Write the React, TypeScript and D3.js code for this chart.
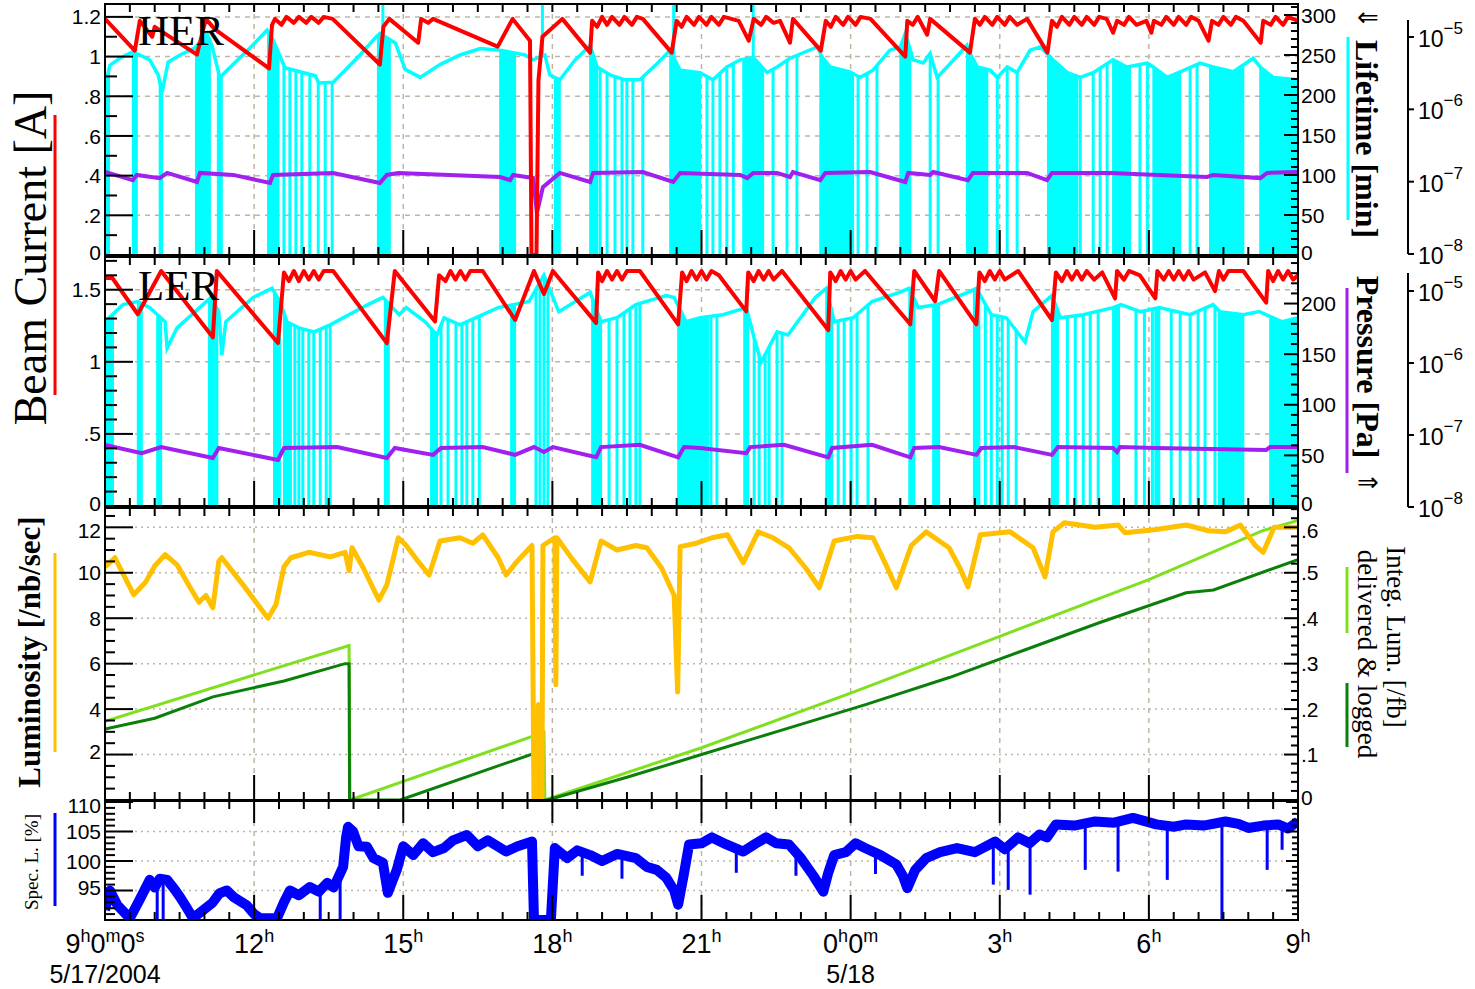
import React from "react";
import * as d3 from "d3";

type P = [number, number];

// ---------- axis / tick data ----------
const TIME_MAJOR = [0, 3, 6, 9, 12, 15, 18, 21, 24];
const TIME_LABELS: string[][] = [
  ["9", "h", "0", "m", "0", "s"], ["12", "h"], ["15", "h"], ["18", "h"], ["21", "h"],
  ["0", "h", "0", "m"], ["3", "h"], ["6", "h"], ["9", "h"],
];
const DATE_LABELS: [number, string][] = [[0, "5/17/2004"], [15, "5/18"]];

const HER_I_TICKS = [0, 0.2, 0.4, 0.6, 0.8, 1, 1.2];
const HER_LT_TICKS = [0, 50, 100, 150, 200, 250, 300];
const LER_I_TICKS = [0, 0.5, 1, 1.5];
const LER_LT_TICKS = [0, 50, 100, 150, 200];
const P_DECADES = [-8, -7, -6, -5];
const LUM_TICKS = [2, 4, 6, 8, 10, 12];
const INT_TICKS = [0, 0.1, 0.2, 0.3, 0.4, 0.5, 0.6];
const SPEC_TICKS = [95, 100, 105, 110];

// ---------- HER ----------
const HER_CURRENT: P[] = [
  [0, 1.19], [0.6, 1.03], [0.7, 1.18], [0.95, 1.1], [1.0, 1.15], [1.85, 1.01], [2.03, 1.19], [2.2, 1.14],
  [3.3, 0.94], [3.36, 1.16], [3.42, 1.19], [3.55, 1.16], [3.65, 1.2], [3.8, 1.17], [3.9, 1.2], [4.05, 1.17],
  [4.15, 1.2], [4.3, 1.17], [4.4, 1.2], [4.58, 1.19], [5.53, 0.96], [5.6, 1.15], [5.72, 1.19], [6.3, 1.07],
  [6.36, 1.19], [6.5, 1.17], [6.6, 1.19], [7.9, 1.05], [8.2, 1.19], [8.55, 1.08], [8.58, 0], [8.68, 0],
  [8.72, 0.88], [8.8, 1.1], [9.2, 1.19], [9.76, 1.02], [9.8, 1.18], [9.9, 1.15], [10.0, 1.2], [10.1, 1.16],
  [10.2, 1.2], [10.35, 1.16], [10.45, 1.2], [10.6, 1.16], [10.7, 1.2], [10.82, 1.19], [11.4, 1.02], [11.5, 1.18],
  [11.6, 1.15], [11.7, 1.2], [11.85, 1.16], [11.95, 1.2], [12.1, 1.16], [12.2, 1.2], [12.35, 1.16], [12.45, 1.2],
  [12.75, 1.18], [12.95, 1.08], [13.05, 1.19], [13.2, 1.16], [13.3, 1.2], [13.45, 1.17], [13.58, 1.18], [13.78, 1.07],
  [13.84, 1.19], [14.4, 1.03], [14.5, 1.18], [14.6, 1.15], [14.7, 1.2], [14.85, 1.16], [14.95, 1.2], [15.1, 1.16],
  [15.2, 1.2], [15.4, 1.19], [16.1, 1.0], [16.14, 1.18], [16.25, 1.16], [16.35, 1.2], [16.54, 1.11], [16.6, 1.19],
  [17.4, 1.02], [17.5, 1.19], [17.6, 1.16], [17.7, 1.2], [17.85, 1.16], [17.95, 1.2], [18.1, 1.16], [18.2, 1.2],
  [18.35, 1.16], [18.55, 1.19], [18.96, 1.02], [19.05, 1.18], [19.15, 1.15], [19.25, 1.2], [19.4, 1.16], [19.5, 1.2],
  [19.65, 1.16], [19.75, 1.2], [19.9, 1.16], [20.0, 1.2], [20.15, 1.19], [20.28, 1.12], [20.36, 1.18], [20.5, 1.16],
  [20.6, 1.2], [20.75, 1.16], [20.95, 1.18], [21.05, 1.12], [21.1, 1.18], [21.25, 1.16], [21.35, 1.2], [21.5, 1.16],
  [21.6, 1.2], [21.75, 1.16], [21.85, 1.2], [22.0, 1.18], [22.2, 1.08], [22.27, 1.18], [22.4, 1.16], [22.5, 1.2],
  [22.65, 1.16], [22.75, 1.2], [22.9, 1.18], [23.25, 1.07], [23.3, 1.18], [23.45, 1.16], [23.55, 1.2], [23.7, 1.16],
  [23.8, 1.2], [24, 1.18],
];
const HER_LIFETIME: P[] = [
  [0, 212], [0.1, 237], [0.3, 246], [0.56, 254], [0.7, 250], [0.9, 244], [1.07, 225], [1.15, 204], [1.27, 241],
  [1.51, 250], [1.81, 259], [2.05, 277], [2.15, 262], [2.31, 222], [2.62, 241], [2.92, 259], [3.26, 281],
  [3.38, 269], [3.62, 234], [3.92, 229], [4.23, 224], [4.3, 215], [4.59, 216], [4.83, 231], [5.13, 250],
  [5.43, 271], [5.53, 277], [5.84, 265], [6.04, 232], [6.34, 222], [6.74, 238], [7.14, 250], [7.55, 258],
  [7.95, 256], [8.45, 250], [8.61, 244], [8.85, 250], [8.95, 225], [9.15, 219], [9.46, 244], [9.76, 262],
  [9.9, 235], [10.16, 225], [10.46, 219], [10.76, 219], [11.07, 237], [11.37, 256], [11.57, 231], [11.97, 228],
  [12.23, 219], [12.51, 235], [12.78, 244], [13.04, 247], [13.32, 228], [13.52, 235], [13.78, 246], [14.33, 260],
  [14.43, 247], [14.59, 235], [14.99, 229], [15.19, 222], [15.45, 231], [15.79, 256], [16.0, 260], [16.1, 277],
  [16.26, 244], [16.46, 240], [16.6, 252], [16.74, 222], [16.94, 235], [17.34, 262], [17.4, 252], [17.55, 235],
  [17.81, 231], [17.95, 222], [18.15, 235], [18.35, 228], [18.61, 256], [18.81, 260], [18.95, 252], [19.07, 244],
  [19.36, 228], [19.62, 222], [19.88, 228], [20.28, 244], [20.56, 235], [20.97, 240], [21.09, 235], [21.37, 222],
  [21.63, 229], [22.03, 240], [22.29, 235], [22.7, 229], [23.1, 246], [23.24, 235], [23.5, 222], [24, 219],
];
const HER_LIFE_SPIKES = [
  3.48, 3.6, 3.72, 3.84, 3.96, 4.12, 4.29, 4.43, 4.57, 9.96, 10.1, 10.26, 10.4, 10.5, 10.62, 10.82,
  12.11, 12.23, 12.37, 12.51, 12.64, 13.44, 13.72, 13.92, 15.15, 15.33, 15.53, 16.6, 16.76, 17.95, 18.15,
  18.35, 19.62, 19.88, 20.02, 20.16, 20.82, 20.97, 21.83, 21.97,
];
const HER_LIFE_BANDS: P[] = [
  [0, 0.08], [0.56, 0.64], [1.1, 1.15], [1.83, 2.11], [2.27, 2.35], [3.28, 3.44], [5.49, 5.73], [7.95, 8.25],
  [9.05, 9.15], [9.76, 9.9], [11.37, 11.97], [12.84, 13.24], [14.39, 15.05], [16.0, 16.2], [17.34, 17.75],
  [18.97, 19.56], [20.28, 20.62], [21.09, 21.63], [22.23, 22.9], [23.24, 23.98],
];
const HER_LIFE_UP = [5.59, 8.8, 11.44, 13.04];
const HER_PRESSURE: P[] = [
  [0, 1.36e-7], [0.56, 1.05e-7], [0.64, 1.24e-7], [1.1, 1.12e-7], [1.25, 1.32e-7], [1.85, 9.9e-8], [1.91, 1.32e-7],
  [2.58, 1.24e-7], [3.32, 9.6e-8], [3.38, 1.24e-7], [4.59, 1.32e-7], [5.53, 9.6e-8], [5.67, 1.24e-7], [5.9, 1.32e-7],
  [7.95, 1.16e-7], [8.15, 1.05e-7], [8.21, 1.24e-7], [8.61, 1.12e-7], [8.69, 3.7e-8], [8.81, 8.4e-8], [9.15, 1.32e-7],
  [9.76, 9.9e-8], [9.82, 1.32e-7], [10.82, 1.36e-7], [11.43, 9.9e-8], [11.57, 1.32e-7], [12.78, 1.24e-7],
  [12.92, 1.12e-7], [13.04, 1.32e-7], [13.52, 1.32e-7], [13.78, 1.16e-7], [13.84, 1.36e-7], [14.39, 1.05e-7],
  [14.49, 1.32e-7], [15.39, 1.36e-7], [16.1, 9.9e-8], [16.16, 1.32e-7], [16.6, 1.24e-7], [16.66, 1.36e-7],
  [17.36, 1.05e-7], [17.46, 1.32e-7], [18.55, 1.32e-7], [18.95, 1.05e-7], [19.05, 1.32e-7], [20.22, 1.32e-7],
  [22.17, 1.16e-7], [22.29, 1.24e-7], [23.24, 1.12e-7], [23.38, 1.32e-7], [24, 1.36e-7],
];

// ---------- LER ----------
const LER_CURRENT: P[] = [
  [0, 1.58], [0.13, 1.59], [0.66, 1.33], [1.13, 1.63], [2.17, 1.17], [2.25, 1.63], [3.48, 1.13], [3.6, 1.62],
  [3.7, 1.56], [3.8, 1.63], [3.9, 1.56], [4.0, 1.63], [4.1, 1.57], [4.2, 1.63], [4.3, 1.57], [4.4, 1.63],
  [4.59, 1.63], [5.67, 1.13], [5.83, 1.63], [6.64, 1.28], [6.72, 1.6], [6.85, 1.56], [6.95, 1.63], [7.05, 1.57],
  [7.15, 1.63], [7.25, 1.57], [7.35, 1.63], [7.6, 1.63], [8.25, 1.29], [8.63, 1.63], [8.83, 1.47], [9.01, 1.63],
  [9.88, 1.27], [9.92, 1.62], [10.0, 1.56], [10.1, 1.63], [10.2, 1.57], [10.3, 1.63], [10.4, 1.57], [10.5, 1.63],
  [10.76, 1.63], [11.53, 1.26], [11.61, 1.62], [11.7, 1.56], [11.8, 1.63], [11.9, 1.57], [12.0, 1.63], [12.1, 1.57],
  [12.2, 1.63], [12.35, 1.6], [12.9, 1.35], [12.94, 1.62], [13.05, 1.56], [13.15, 1.63], [13.25, 1.57], [13.35, 1.63],
  [13.45, 1.57], [13.62, 1.63], [14.55, 1.22], [14.59, 1.62], [14.7, 1.56], [14.8, 1.63], [14.9, 1.57], [15.0, 1.63],
  [15.1, 1.57], [15.29, 1.63], [16.2, 1.26], [16.28, 1.63], [16.7, 1.42], [16.78, 1.63], [17.53, 1.26], [17.59, 1.62],
  [17.7, 1.56], [17.8, 1.63], [17.9, 1.57], [18.0, 1.63], [18.1, 1.57], [18.37, 1.63], [19.05, 1.29], [19.13, 1.62],
  [19.25, 1.56], [19.35, 1.63], [19.45, 1.57], [19.55, 1.63], [19.65, 1.57], [19.75, 1.63], [19.9, 1.57], [20.06, 1.62],
  [20.32, 1.44], [20.36, 1.63], [20.5, 1.57], [20.6, 1.63], [20.82, 1.6], [21.13, 1.44], [21.17, 1.63], [21.3, 1.57],
  [21.4, 1.63], [21.5, 1.57], [21.6, 1.63], [21.7, 1.57], [21.8, 1.63], [21.9, 1.57], [22.13, 1.62], [22.33, 1.49],
  [22.41, 1.63], [22.5, 1.57], [22.6, 1.63], [22.9, 1.63], [23.36, 1.41], [23.4, 1.63], [23.5, 1.56], [23.6, 1.63],
  [23.7, 1.57], [23.8, 1.63], [23.9, 1.57], [24, 1.6],
];
const LER_LIFETIME: P[] = [
  [0, 182], [0.36, 199], [0.66, 202], [0.9, 196], [1.21, 182], [1.25, 156], [1.45, 176], [2.13, 206], [2.29, 192],
  [2.35, 149], [2.43, 182], [2.98, 206], [3.36, 215], [3.52, 202], [3.66, 182], [3.9, 176], [4.21, 172], [4.53, 179],
  [5.29, 199], [5.59, 206], [5.92, 189], [6.06, 196], [6.44, 182], [6.68, 169], [6.82, 186], [7.14, 179], [7.91, 196],
  [8.53, 202], [8.83, 228], [9.13, 192], [9.76, 211], [9.98, 182], [10.3, 186], [10.68, 199], [11.29, 208],
  [11.45, 206], [11.69, 182], [11.97, 186], [12.43, 189], [12.9, 196], [13.06, 166], [13.2, 142], [13.52, 172],
  [13.74, 169], [14.29, 206], [14.51, 215], [14.67, 182], [15.05, 186], [15.43, 202], [15.98, 211], [16.18, 215],
  [16.36, 196], [16.74, 199], [17.36, 211], [17.53, 215], [17.83, 189], [18.13, 186], [18.51, 162], [18.67, 192],
  [19.05, 208], [19.22, 186], [19.68, 189], [20.28, 196], [20.44, 199], [20.83, 192], [21.21, 196], [21.83, 189],
  [22.29, 199], [22.43, 192], [22.9, 189], [23.22, 192], [23.68, 182], [24, 186],
];
const LER_LIFE_SPIKES = [
  2.25, 3.82, 3.9, 3.98, 4.1, 4.2, 4.33, 4.45, 4.53, 6.76, 6.9, 7.06, 7.18, 7.28, 7.4, 7.53, 8.67, 8.75, 8.83,
  8.91, 10.14, 10.3, 10.44, 10.56, 10.68, 10.76, 12.19, 12.31, 13.06, 13.16, 13.28, 13.36, 13.52, 13.62, 14.75,
  14.87, 15.01, 15.13, 15.35, 17.71, 17.83, 17.95, 18.05, 18.17, 18.33, 19.36, 19.52, 19.68, 19.82, 19.98, 20.74,
  20.91, 21.07, 21.45, 21.63, 21.83, 21.99, 22.13, 22.33,
];
const LER_LIFE_BANDS: P[] = [
  [0.02, 0.16], [0.66, 0.74], [1.05, 1.13], [2.09, 2.21], [3.4, 3.52], [3.6, 3.74], [5.63, 5.71], [6.56, 6.68],
  [8.17, 8.25], [9.8, 9.98], [11.53, 12.13], [12.86, 12.94], [14.51, 14.63], [16.18, 16.28], [16.66, 16.78],
  [17.48, 17.59], [19.05, 19.17], [20.28, 20.4], [21.13, 21.21], [22.41, 22.9], [23.44, 24],
];
const LER_PRESSURE: P[] = [
  [0, 7.3e-8], [0.74, 5.6e-8], [1.13, 6.8e-8], [2.17, 4.8e-8], [2.29, 6.6e-8], [3.48, 4.5e-8], [3.6, 6.6e-8],
  [4.67, 6.8e-8], [5.67, 4.8e-8], [5.83, 6.6e-8], [6.6, 5.3e-8], [6.76, 6.6e-8], [7.6, 6.8e-8], [8.25, 5.3e-8],
  [8.63, 6.8e-8], [8.83, 5.8e-8], [9.01, 6.8e-8], [9.88, 4.9e-8], [9.98, 6.8e-8], [10.76, 7.3e-8], [11.53, 4.9e-8],
  [11.65, 6.8e-8], [11.97, 6.6e-8], [12.9, 5.6e-8], [12.98, 6.8e-8], [13.66, 7.3e-8], [14.55, 4.9e-8],
  [14.63, 6.6e-8], [15.43, 7.3e-8], [16.2, 4.9e-8], [16.28, 6.6e-8], [16.78, 6.8e-8], [17.53, 5.3e-8],
  [17.63, 6.6e-8], [18.29, 6.8e-8], [19.05, 5.3e-8], [19.17, 6.8e-8], [20.28, 6.6e-8], [20.36, 5.8e-8],
  [20.42, 6.8e-8], [21.13, 6.6e-8], [23.36, 6.2e-8], [23.44, 6.8e-8], [24, 6.8e-8],
];

// ---------- Luminosity ----------
const LUMINOSITY: P[] = [
  [0, 10.26], [0.2, 10.66], [0.4, 9.8], [0.58, 9.03], [0.82, 9.6], [1.0, 10.3], [1.21, 10.8], [1.45, 10.35],
  [1.7, 9.4], [1.89, 8.7], [2.03, 9.0], [2.17, 8.46], [2.29, 10.5], [2.35, 10.66], [2.8, 9.4], [3.28, 8.0],
  [3.44, 8.6], [3.6, 10.26], [3.74, 10.66], [4.1, 10.9], [4.53, 10.7], [4.83, 10.9], [4.91, 10.1], [4.97, 11.1],
  [5.2, 10.2], [5.43, 9.16], [5.51, 8.8], [5.67, 9.47], [5.9, 11.54], [6.06, 11.2], [6.3, 10.5], [6.52, 9.9],
  [6.74, 11.4], [7.14, 11.54], [7.4, 11.3], [7.6, 11.67], [7.91, 10.66], [8.07, 9.9], [8.29, 10.5], [8.59, 11.2],
  [8.63, 0], [8.7, 0], [8.72, 4.2], [8.75, 0], [8.79, 0], [8.81, 11.2], [9.05, 11.54], [9.07, 5.07],
  [9.09, 11.54], [9.4, 10.6], [9.76, 9.6], [9.98, 11.4], [10.3, 11.0], [10.68, 11.2], [10.9, 11.1], [11.2, 10.2],
  [11.45, 9.0], [11.52, 4.75], [11.57, 11.15], [11.9, 11.3], [12.21, 11.54], [12.52, 11.67], [12.84, 10.44],
  [13.14, 11.8], [13.44, 11.54], [13.76, 11.1], [14.1, 10.2], [14.37, 9.34], [14.67, 11.4], [15.13, 11.6],
  [15.45, 11.54], [15.7, 10.4], [15.92, 9.34], [16.22, 11.2], [16.52, 11.8], [16.98, 11.1], [17.2, 10.2],
  [17.36, 9.38], [17.61, 11.67], [18.21, 11.8], [18.67, 11.1], [18.91, 9.82], [19.07, 11.8], [19.3, 12.2],
  [19.92, 12.0], [20.38, 12.1], [20.52, 11.76], [21.15, 11.9], [21.75, 12.1], [22.2, 11.85], [22.54, 11.8],
  [22.84, 12.1], [23.14, 11.2], [23.3, 10.9], [23.52, 12.0], [24, 12.0],
];
const INTEG_DELIVERED: P[] = [
  [0, 0.173], [4.91, 0.34], [4.93, 0], [8.83, 0.149], [8.85, 0], [12, 0.115], [15, 0.235], [18, 0.36],
  [21, 0.485], [23.3, 0.593], [24, 0.615],
];
const INTEG_LOGGED: P[] = [
  [0, 0.156], [1, 0.18], [2.17, 0.227], [3.6, 0.262], [4.83, 0.3], [4.91, 0.3], [4.92, 0], [5.94, 0],
  [8.67, 0.104], [8.75, 0], [8.9, 0], [10.5, 0.05], [12, 0.1], [13.5, 0.15], [15.3, 0.21], [17, 0.27],
  [18.5, 0.33], [20, 0.39], [21.75, 0.456], [22.3, 0.462], [24, 0.529],
];

// ---------- Specific luminosity ----------
const SPEC_LUMI: P[] = [
  [0, 91.7], [0.1, 95], [0.25, 92.5], [0.5, 90.3], [0.7, 93.5], [0.9, 96.8], [1.0, 95.5], [1.1, 97], [1.25, 96.8],
  [1.4, 95.2], [1.5, 94], [1.65, 92], [1.77, 90.3], [1.95, 91.5], [2.16, 92.9], [2.3, 94.5], [2.45, 95], [2.6, 93.8],
  [2.85, 92.5], [3.0, 91], [3.12, 90.3], [3.46, 90.3], [3.6, 93], [3.72, 95], [3.9, 94.2], [4.12, 95.6], [4.3, 94.8],
  [4.47, 96.3], [4.6, 95.5], [4.67, 96.8], [4.79, 99], [4.85, 104], [4.89, 105.8], [4.99, 105], [5.1, 102.5],
  [5.27, 102.4], [5.4, 100.5], [5.59, 99.7], [5.69, 94.6], [5.8, 97], [5.87, 98.5], [6.0, 102.5], [6.2, 101],
  [6.4, 103], [6.6, 101.5], [6.82, 102.2], [7.0, 103.5], [7.28, 104.4], [7.5, 102.5], [7.7, 103.5], [8.07, 101.6],
  [8.3, 102.5], [8.59, 103.3], [8.63, 90], [8.97, 90], [9.05, 102.2], [9.3, 100.5], [9.5, 101.8], [9.76, 101],
  [10.0, 100], [10.3, 101.2], [10.68, 100.5], [10.9, 99], [11.1, 98.5], [11.29, 97.2], [11.45, 95], [11.53, 92.6],
  [11.65, 98], [11.75, 102.8], [12.0, 103], [12.21, 104], [12.5, 102.8], [12.84, 101.6], [13.1, 103], [13.3, 104],
  [13.5, 103], [13.76, 102.8], [14.0, 100.5], [14.25, 97.5], [14.45, 94.8], [14.55, 98], [14.67, 101], [14.9, 101.5],
  [15.1, 103], [15.29, 102.2], [15.6, 101], [15.92, 99.4], [16.05, 97.5], [16.14, 95.4], [16.3, 98.5], [16.52, 100.5],
  [16.8, 101.5], [17.14, 102.2], [17.5, 101.5], [17.91, 103.3], [18.1, 102], [18.37, 104], [18.6, 103], [18.8, 104.5],
  [18.95, 104], [19.13, 106.2], [19.5, 106], [19.92, 106.7], [20.3, 106.5], [20.68, 107.3], [20.9, 106.8],
  [21.15, 106.2], [21.5, 105.8], [21.75, 106.2], [22.1, 106], [22.54, 106.7], [22.8, 106.3], [23.0, 105.6],
  [23.3, 106], [23.6, 106.2], [23.8, 105.5], [24, 106.7],
];
const SPEC_SPIKES: P[] = [
  [1.05, 90], [1.17, 90], [4.33, 90], [4.73, 90], [9.6, 97.5], [10.4, 97], [12.7, 98], [13.9, 97.5],
  [15.5, 97.8], [17.87, 96], [18.17, 95.1], [18.61, 94.3], [19.72, 98.5], [20.38, 98.2], [21.37, 96.8],
  [22.47, 90], [23.38, 98.5], [23.68, 101.9],
];

// ---------- styles ----------
const CYAN = "#00ffff";
const RED = "#ff0000";
const PURPLE = "#a020f0";
const ORANGE = "#ffc000";
const LGREEN = "#80e020";
const DGREEN = "#0a800a";
const BLUE = "#0000ff";
const GRID = "#bdb6a6";
const SANS = "'Liberation Sans', Arial, sans-serif";
const SERIF = "'Liberation Serif', 'Times New Roman', serif";
const TICK_FS = 21;

function interp(series: P[], t: number): number {
  const i = d3.bisector((d: P) => d[0]).left(series, t);
  if (i <= 0) return series[0][1];
  if (i >= series.length) return series[series.length - 1][1];
  const a = series[i - 1], b = series[i];
  if (b[0] === a[0]) return b[1];
  return a[1] + ((b[1] - a[1]) * (t - a[0])) / (b[0] - a[0]);
}

const fmt = (v: number) => (v === 0 ? "0" : v < 1 ? String(v).replace(/^0/, "") : String(v));

export default function App() {
  const XL = 105, XR = 1298;
  const x = d3.scaleLinear().domain([0, 24]).range([XL, XR]);

  const her = { top: 4, bot: 255 };
  const ler = { top: 257, bot: 506 };
  const lum = { top: 508, bot: 800 };
  const spc = { top: 801, bot: 920 };

  const herI = d3.scaleLinear().domain([0, 1.27]).range([255, 3]);
  const herL = d3.scaleLinear().domain([0, 315]).range([255, 3]);
  const herP = d3.scaleLog().domain([1e-8, 1e-5]).range([254, 37]);
  const lerI = d3.scaleLinear().domain([0, 1.72]).range([506, 258]);
  const lerL = d3.scaleLinear().domain([0, 245]).range([506, 258]);
  const lerP = d3.scaleLog().domain([1e-8, 1e-5]).range([507, 291]);
  const lumY = d3.scaleLinear().domain([0, 12.85]).range([800, 508]);
  const intY = d3.scaleLinear().domain([0, 0.6425]).range([800, 508]);
  const spcY = d3.scaleLinear().domain([90, 110]).range([920, 802]);

  const ln = (data: P[], ys: (v: number) => number) =>
    d3.line<P>().x((d) => x(d[0])).y((d) => ys(d[1]))(data) || "";

  const bandPath = (base: P[], a: number, b: number, ys: (v: number) => number, y0: number) => {
    const pts: P[] = [[a, interp(base, a)], ...base.filter((d) => d[0] > a && d[0] < b), [b, interp(base, b)]];
    return d3.area<P>().x((d) => x(d[0])).y0(y0).y1((d) => ys(d[1]))(pts) || "";
  };

  const cyan = (base: P[], spikes: number[], bands: P[], ys: (v: number) => number, y0: number, ups: number[], top: number) => (
    <g>
      {bands.map(([a, b], i) => (
        <path key={"b" + i} d={bandPath(base, a, b, ys, y0)} fill={CYAN} stroke={CYAN} strokeWidth={2} />
      ))}
      {spikes.map((t, i) => (
        <line key={"s" + i} x1={x(t)} x2={x(t)} y1={y0} y2={ys(interp(base, t))} stroke={CYAN} strokeWidth={3} />
      ))}
      {ups.map((t, i) => (
        <line key={"u" + i} x1={x(t)} x2={x(t)} y1={top} y2={ys(interp(base, t))} stroke={CYAN} strokeWidth={3} />
      ))}
      <path d={ln(base, ys)} fill="none" stroke={CYAN} strokeWidth={3.5} />
    </g>
  );

  const halfHours = d3.range(0, 24.001, 0.5);
  const xTicks = (p: { top: number; bot: number }, topMajor: number, botMajor: number) =>
    halfHours.map((h, i) => {
      const major = Math.abs(h % 3) < 1e-9;
      return (
        <g key={"xt" + i}>
          <line x1={x(h)} x2={x(h)} y1={p.top} y2={p.top + (major ? topMajor : 8)} stroke="#000" strokeWidth={2} />
          <line x1={x(h)} x2={x(h)} y1={p.bot} y2={p.bot - (major ? botMajor : 8)} stroke="#000" strokeWidth={2} />
        </g>
      );
    });

  const yTicks = (scale: (v: number) => number, lo: number, hi: number, step: number, majorEvery: number, side: "L" | "R", minorLen: number, majorLen: number) =>
    d3.range(lo, hi + step / 2, step).map((v, i) => {
      const major = Math.abs(v / majorEvery - Math.round(v / majorEvery)) < 1e-6;
      const len = major ? majorLen : minorLen;
      const y = scale(v);
      return side === "L" ? (
        <line key={side + i} x1={XL} x2={XL + len} y1={y} y2={y} stroke="#000" strokeWidth={2} />
      ) : (
        <line key={side + i} x1={XR} x2={XR - len} y1={y} y2={y} stroke="#000" strokeWidth={2} />
      );
    });

  const hGrid = (scale: (v: number) => number, vals: number[], dash: string) =>
    vals.map((v, i) => (
      <line key={"hg" + i} x1={XL} x2={XR} y1={scale(v)} y2={scale(v)} stroke={GRID} strokeWidth={1.5} strokeDasharray={dash} />
    ));
  const vGrid = (p: { top: number; bot: number }) =>
    TIME_MAJOR.filter((h) => h > 0 && h < 24).map((h, i) => (
      <line key={"vg" + i} x1={x(h)} x2={x(h)} y1={p.top} y2={p.bot} stroke={GRID} strokeWidth={1.5} strokeDasharray="5 5" />
    ));

  // small vertical nudges keep the labels that sit on a shared panel border apart
  const nudge = (v: number, lo: number, top: number) => (v === lo ? -3 : v === top ? 3 : 0);

  const leftLabels = (scale: (v: number) => number, vals: number[], keyp: string, top: number) =>
    vals.map((v, i) => (
      <text key={keyp + i} x={101} y={scale(v) + nudge(v, vals[0], top)} dy="0.36em" textAnchor="end" fontFamily={SANS} fontSize={TICK_FS} fill="#000">
        {fmt(v)}
      </text>
    ));
  const rightLabels = (scale: (v: number) => number, vals: number[], keyp: string, top: number) =>
    vals.map((v, i) => (
      <text key={keyp + i} x={1301} y={scale(v) + nudge(v, vals[0], top)} dy="0.36em" textAnchor="start" fontFamily={SANS} fontSize={TICK_FS} fill="#000">
        {fmt(v)}
      </text>
    ));

  const logAxis = (scale: (v: number) => number, yTop: number, keyp: string) => (
    <g>
      <line x1={1408} x2={1408} y1={yTop} y2={scale(1e-8)} stroke="#000" strokeWidth={2} />
      {P_DECADES.map((e, i) => {
        const y = scale(Math.pow(10, e));
        return (
          <g key={keyp + i}>
            <line x1={1408} x2={1414} y1={y} y2={y} stroke="#000" strokeWidth={2} />
            <text x={1418} y={y + 10} fontFamily={SANS} fontSize={23} fill="#000">
              10
              <tspan dy={-13} fontSize={17}>{"\u2212" + Math.abs(e)}</tspan>
            </text>
          </g>
        );
      })}
    </g>
  );

  const clip = (id: string, p: { top: number; bot: number }) => (
    <clipPath id={id}>
      <rect x={XL} y={p.top} width={XR - XL} height={p.bot - p.top} />
    </clipPath>
  );

  return (
    <svg width={1475} height={989} style={{ position: "absolute", left: 0, top: 0, background: "#fff" }}>
      <defs>
        {clip("cHer", her)}
        {clip("cLer", ler)}
        {clip("cLum", lum)}
        {clip("cSpc", spc)}
      </defs>
      <rect x={0} y={0} width={1475} height={989} fill="#fff" />

      {/* ---------- HER panel ---------- */}
      <g clipPath="url(#cHer)">
        {hGrid(herI, [0.2, 0.4, 0.6, 0.8, 1, 1.2], "5 5")}
        {vGrid(her)}
        {cyan(HER_LIFETIME, HER_LIFE_SPIKES, HER_LIFE_BANDS, herL, her.bot, HER_LIFE_UP, her.top)}
        <path d={ln(HER_PRESSURE, herP)} fill="none" stroke={PURPLE} strokeWidth={4} />
        <path d={ln(HER_CURRENT, herI)} fill="none" stroke={RED} strokeWidth={4} strokeLinejoin="round" />
      </g>
      <text x={138} y={45} fontFamily={SERIF} fontSize={43} fill="#000">HER</text>

      {/* ---------- LER panel ---------- */}
      <g clipPath="url(#cLer)">
        {hGrid(lerI, [0.5, 1, 1.5], "5 5")}
        {vGrid(ler)}
        {cyan(LER_LIFETIME, LER_LIFE_SPIKES, LER_LIFE_BANDS, lerL, ler.bot, [], ler.top)}
        <path d={ln(LER_PRESSURE, lerP)} fill="none" stroke={PURPLE} strokeWidth={4} />
        <path d={ln(LER_CURRENT, lerI)} fill="none" stroke={RED} strokeWidth={4} strokeLinejoin="round" />
      </g>
      <text x={138} y={300} fontFamily={SERIF} fontSize={43} fill="#000">LER</text>

      {/* ---------- Luminosity panel ---------- */}
      <g clipPath="url(#cLum)">
        {hGrid(lumY, [2, 4, 6, 8, 10, 12], "2 4")}
        {vGrid(lum)}
        <path d={ln(INTEG_DELIVERED, intY)} fill="none" stroke={LGREEN} strokeWidth={3} />
        <path d={ln(INTEG_LOGGED, intY)} fill="none" stroke={DGREEN} strokeWidth={3} />
        <path d={ln(LUMINOSITY, lumY)} fill="none" stroke={ORANGE} strokeWidth={5} strokeLinejoin="round" />
      </g>

      {/* ---------- Spec. lumi panel ---------- */}
      <g clipPath="url(#cSpc)">
        {hGrid(spcY, [95, 100, 105], "2 4")}
        {vGrid(spc)}
        {SPEC_SPIKES.map(([t, v], i) => (
          <line key={"ss" + i} x1={x(t)} x2={x(t)} y1={spcY(interp(SPEC_LUMI, t))} y2={spcY(v)} stroke={BLUE} strokeWidth={3} />
        ))}
        <path d={ln(SPEC_LUMI, spcY)} fill="none" stroke={BLUE} strokeWidth={10} strokeLinejoin="round" />
      </g>

      {/* ---------- frames & ticks ---------- */}
      {[her, ler, lum, spc].map((p, i) => (
        <rect key={"fr" + i} x={XL} y={p.top} width={XR - XL} height={p.bot - p.top} fill="none" stroke="#000" strokeWidth={2} />
      ))}
      {xTicks(her, 8, 25)}
      {xTicks(ler, 8, 25)}
      {xTicks(lum, 8, 25)}
      {xTicks(spc, 22, 25)}

      {yTicks(herI, 0, 1.25, 0.1, 0.2, "L", 12, 28)}
      {yTicks(herL, 0, 310, 10, 50, "R", 7, 14)}
      {yTicks(lerI, 0, 1.7, 0.1, 0.5, "L", 12, 28)}
      {yTicks(lerL, 0, 240, 10, 50, "R", 7, 14)}
      {yTicks(lumY, 0, 12.5, 0.5, 2, "L", 10, 28)}
      {yTicks(intY, 0, 0.64, 0.02, 0.1, "R", 7, 14)}
      {yTicks(spcY, 90, 110, 1, 5, "L", 10, 28)}
      {yTicks(spcY, 90, 110, 1, 5, "R", 6, 12)}

      {/* ---------- tick labels ---------- */}
      {leftLabels(herI, HER_I_TICKS, "hl", -1)}
      {rightLabels(herL, HER_LT_TICKS, "hr", -1)}
      {leftLabels(lerI, LER_I_TICKS, "ll", -1)}
      {rightLabels(lerL, LER_LT_TICKS, "lr", -1)}
      {leftLabels(lumY, LUM_TICKS, "ml", 12)}
      {rightLabels(intY, INT_TICKS, "mr", 0.6)}
      {leftLabels(spcY, SPEC_TICKS, "sl", 110)}

      {logAxis(herP, 20, "hp")}
      {logAxis(lerP, 273, "lp")}

      {TIME_MAJOR.map((h, i) => (
        <text key={"tl" + i} x={x(h)} y={953} textAnchor="middle" fontFamily={SANS} fontSize={27} fill="#000">
          {TIME_LABELS[i].map((s, j) =>
            j % 2 === 0 ? (
              <tspan key={j} dy={j === 0 ? 0 : 11} fontSize={27}>{s}</tspan>
            ) : (
              <tspan key={j} dy={-11} fontSize={18}>{s}</tspan>
            )
          )}
        </text>
      ))}
      {DATE_LABELS.map(([h, s], i) => (
        <text key={"dl" + i} x={x(h)} y={983} textAnchor="middle" fontFamily={SANS} fontSize={25} fill="#000">{s}</text>
      ))}

      {/* ---------- axis titles ---------- */}
      <text transform="translate(46,258) rotate(-90)" textAnchor="middle" fontFamily={SERIF} fontSize={46} fill="#000">
        Beam Current [A]
      </text>
      <line x1={55} x2={55} y1={115} y2={395} stroke={RED} strokeWidth={3} />
      <text transform="translate(40,652) rotate(-90)" textAnchor="middle" fontFamily={SERIF} fontWeight="bold" fontSize={31} fill="#000">
        Luminosity [/nb/sec]
      </text>
      <line x1={55} x2={55} y1={553} y2={752} stroke={ORANGE} strokeWidth={3} />
      <text transform="translate(38,862) rotate(-90)" textAnchor="middle" fontFamily={SERIF} fontSize={19} fill="#000">
        Spec. L. [%]
      </text>
      <line x1={55} x2={55} y1={813} y2={906} stroke={BLUE} strokeWidth={3} />

      <text x={1368} y={26} textAnchor="middle" fontFamily="'DejaVu Sans', sans-serif" fontSize={26} fill="#000">{"\u21d0"}</text>
      <text transform="translate(1356,139) rotate(90)" textAnchor="middle" fontFamily={SERIF} fontWeight="bold" fontSize={32} fill="#000">
        Lifetime [min]
      </text>
      <line x1={1348} x2={1348} y1={37} y2={220} stroke={CYAN} strokeWidth={3} />
      <text transform="translate(1357,367) rotate(90)" textAnchor="middle" fontFamily={SERIF} fontWeight="bold" fontSize={32} fill="#000">
        Pressure [Pa]
      </text>
      <text x={1368} y={491} textAnchor="middle" fontFamily="'DejaVu Sans', sans-serif" fontSize={26} fill="#000">{"\u21d2"}</text>
      <line x1={1347} x2={1347} y1={288} y2={473} stroke={PURPLE} strokeWidth={3} />

      <text transform="translate(1387,637) rotate(90)" textAnchor="middle" fontFamily={SERIF} fontSize={27} fill="#000">
        Integ. Lum. [/fb]
      </text>
      <text transform="translate(1358,654) rotate(90)" textAnchor="middle" fontFamily={SERIF} fontSize={27} fill="#000">
        delivered &amp; logged
      </text>
      <line x1={1347} x2={1347} y1={567} y2={633} stroke={LGREEN} strokeWidth={3} />
      <line x1={1347} x2={1347} y1={683} y2={747} stroke={DGREEN} strokeWidth={3} />
    </svg>
  );
}
